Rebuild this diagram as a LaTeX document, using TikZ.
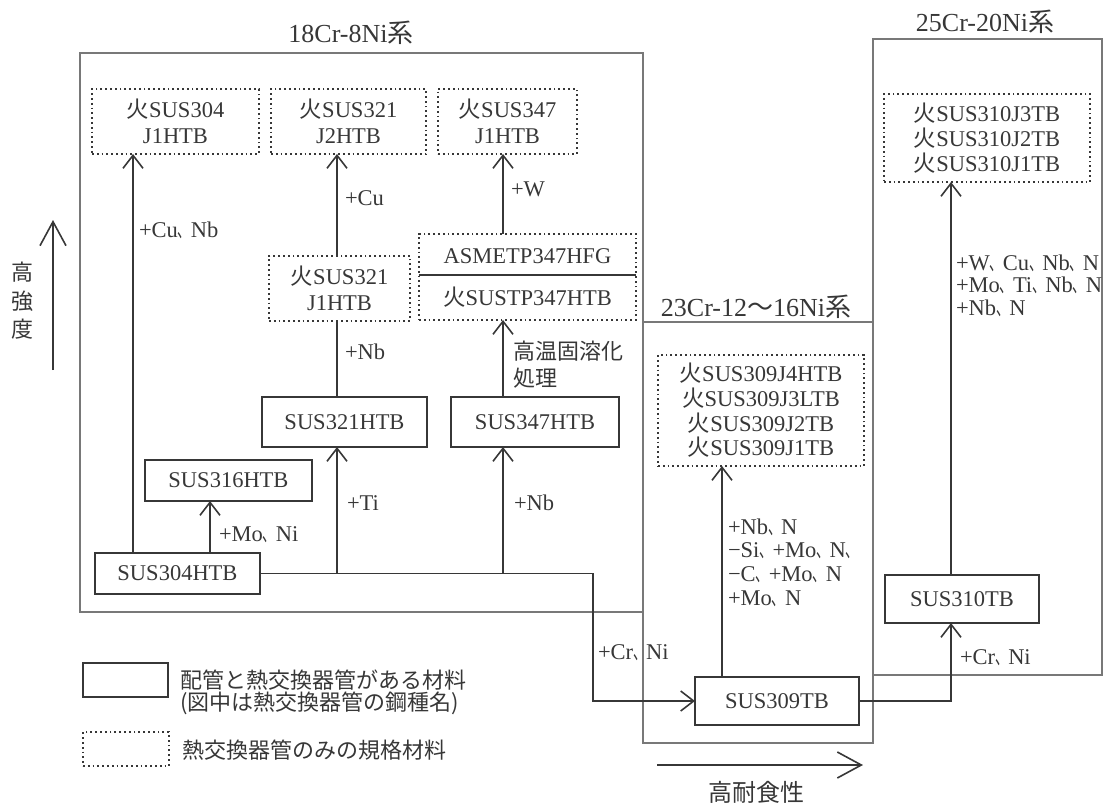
\documentclass[tikz,border=0pt]{standalone}
\usepackage{graphicx}
\usepackage{fontspec}
\setmainfont{Liberation Serif}
\newfontfamily\cjk{Noto Sans CJK JP}
\usetikzlibrary{arrows.meta}
\definecolor{ink}{RGB}{55,55,55}
\definecolor{frame}{RGB}{120,120,120}
\newcommand\tc{\scalebox{0.58}[1]{\cjk 、}}
\newcommand\hi{{\cjk 火}}
\begin{document}
\begin{tikzpicture}[x=1pt,y=-1pt,
  every node/.style={text=ink, font=\fontsize{22.5}{26}\selectfont, inner sep=0pt, outer sep=0pt},
  jp/.style={font=\fontsize{22}{26}\selectfont\cjk},
  ttl/.style={font=\fontsize{26}{30}\selectfont},
  grp/.style={draw=frame, line width=1.2pt},
  solidbox/.style={draw=ink, line width=1.8pt},
  dotbox/.style={draw=ink, line width=1.8pt, dash pattern=on 1.8pt off 3pt, align=center},
  conn/.style={draw=ink, line width=1.6pt},
  arr/.style={conn, -{Straight Barb[length=13pt,width=20pt]}},
  bigarr/.style={draw=ink, line width=1.6pt, -{Straight Barb[length=24pt,width=26pt]}},
  lbl/.style={anchor=west, align=left},
  sz/.style 2 args={minimum width=#1pt, minimum height=#2pt}
]
\useasboundingbox (0,0) rectangle (1105,808);

% group frames
\node[grp, sz={563}{559}] (g18) at (361.5,332.5) {};
\node[grp, sz={230}{421}] (g23) at (758,532.5) {};
\node[grp, sz={229}{636}] (g25) at (987.5,357) {};
\node[ttl] (t18) at (351,33) {18Cr-8Ni{\cjk 系}};
\node[ttl] (t23) at (756,307) {23Cr-12{\cjk 〜}16Ni{\cjk 系}};
\node[ttl] (t25) at (985,22) {25Cr-20Ni{\cjk 系}};

% dotted (heat-exchanger-only) materials
\node[dotbox, sz={167}{65}] (d304) at (175.5,121.5) {\hi SUS304\\J1HTB};
\node[dotbox, sz={155}{65}] (d321b) at (348.5,121.5) {\hi SUS321\\J2HTB};
\node[dotbox, sz={139}{65}] (d347b) at (507.5,121.5) {\hi SUS347\\J1HTB};
\node[dotbox, sz={141}{65}] (d321a) at (339.5,288.5) {\hi SUS321\\J1HTB};
\node[dotbox, sz={217}{86}] (dasme) at (527.5,277) {};
\node (asme) at (527.5,256) {ASMETP347HFG};
\node (tp347) at (527.5,297) {\hi SUSTP347HTB};
\draw[conn] (dasme.west |- 0,275) -- (dasme.east |- 0,275);
\node[dotbox, sz={206}{111}, font=\fontsize{22.5}{24.7}\selectfont] (d309) at (761,410.5) {\hi SUS309J4HTB\\\hi SUS309J3LTB\\\hi SUS309J2TB\\\hi SUS309J1TB};
\node[dotbox, sz={206}{88}, font=\fontsize{22.5}{25}\selectfont] (d310) at (987,138) {\hi SUS310J3TB\\\hi SUS310J2TB\\\hi SUS310J1TB};

% solid (pipe and tube) materials
\node[solidbox, sz={165}{50}] (s321) at (344.5,422) {SUS321HTB};
\node[solidbox, sz={168}{50}] (s347) at (535,422) {SUS347HTB};
\node[solidbox, sz={167}{41}] (s316) at (228.5,480.5) {SUS316HTB};
\node[solidbox, sz={165}{41}] (s304) at (177.5,573.5) {SUS304HTB};
\node[solidbox, sz={164}{48}] (s309) at (777,701) {SUS309TB};
\node[solidbox, sz={154}{48}] (s310) at (962,599) {SUS310TB};

% connector x positions
\coordinate (c304) at (133,0);
\coordinate (c316) at (210,0);
\coordinate (c321) at (337,0);
\coordinate (c347) at (503,0);
\coordinate (c309) at (722,0);
\coordinate (c310) at (951,0);
\coordinate (cjn) at (593,0);

\draw[arr] (s304.north -| c304) -- (d304.south -| c304);
\draw[arr] (s304.north -| c316) -- (s316.south -| c316);
\draw[arr] (s304.east) -- (s304.east -| cjn) |- (s309.west);
\draw[arr] (s304.east -| c321) -- (s321.south -| c321);
\draw[arr] (s304.east -| c347) -- (s347.south -| c347);
\draw[conn] (s321.north -| c321) -- (d321a.south -| c321);
\draw[arr] (d321a.north -| c321) -- (d321b.south -| c321);
\draw[arr] (s347.north -| c347) -- (dasme.south -| c347);
\draw[arr] (dasme.north -| c347) -- (d347b.south -| c347);
\draw[arr] (s309.north -| c309) -- (d309.south -| c309);
\draw[arr] (s309.east) -| (s310.south -| c310);
\draw[arr] (s310.north -| c310) -- (d310.south -| c310);

% labels
\node[lbl] (lcunb) at (139,230) {+Cu\tc Nb};
\node[lbl] (lmoni) at (219,535) {+Mo\tc Ni};
\node[lbl] (lti) at (347,503) {+Ti};
\node[lbl] (lnbb) at (514,503) {+Nb};
\node[lbl] (lnba) at (345,352) {+Nb};
\node[lbl] (lcu) at (345,198) {+Cu};
\node[lbl, jp, font=\fontsize{22}{27}\selectfont\cjk] (lht) at (513,365) {高温固溶化\\処理};
\node[lbl] (lw) at (511,189) {+W};
\node[lbl] (lcrnia) at (598,653) {+Cr\tc Ni};
\node[lbl, font=\fontsize{22.5}{23.7}\selectfont] (l309) at (728,562.5) {+Nb\tc N\\−Si\tc +Mo\tc N\tc \\−C\tc +Mo\tc N\\+Mo\tc N};
\node[lbl] (lcrnib) at (960,658) {+Cr\tc Ni};
\node[lbl, font=\fontsize{22.5}{22.5}\selectfont] (l310) at (956,285.5) {+W\tc Cu\tc Nb\tc N\\+Mo\tc Ti\tc Nb\tc N\\+Nb\tc N};

% axes
\coordinate (sbot) at (53,370);
\coordinate (stop) at (53,220);
\draw[bigarr] (sbot) -- (stop);
\node[jp, align=center, font=\fontsize{22}{28.5}\selectfont\cjk] (strength) at (23,301) {高\\強\\度};
\coordinate (cl) at (657,765);
\coordinate (cr) at (863,765);
\draw[bigarr] (cl) -- (cr);
\node[jp, font=\fontsize{24}{28}\selectfont\cjk] (corr) at (756,792) {高耐食性};

% legend
\node[solidbox, sz={85}{34}] (lgs) at (125.5,680) {};
\node[jp, anchor=west] (lgt1) at (180,680) {配管と熱交換器管がある材料};
\node[jp, anchor=west] (lgt2) at (180,703) {(図中は熱交換器管の鋼種名)};
\node[dotbox, sz={86}{34}] (lgd) at (126,749) {};
\node[jp, anchor=west] (lgt3) at (182,750) {熱交換器管のみの規格材料};
\end{tikzpicture}
\end{document}
